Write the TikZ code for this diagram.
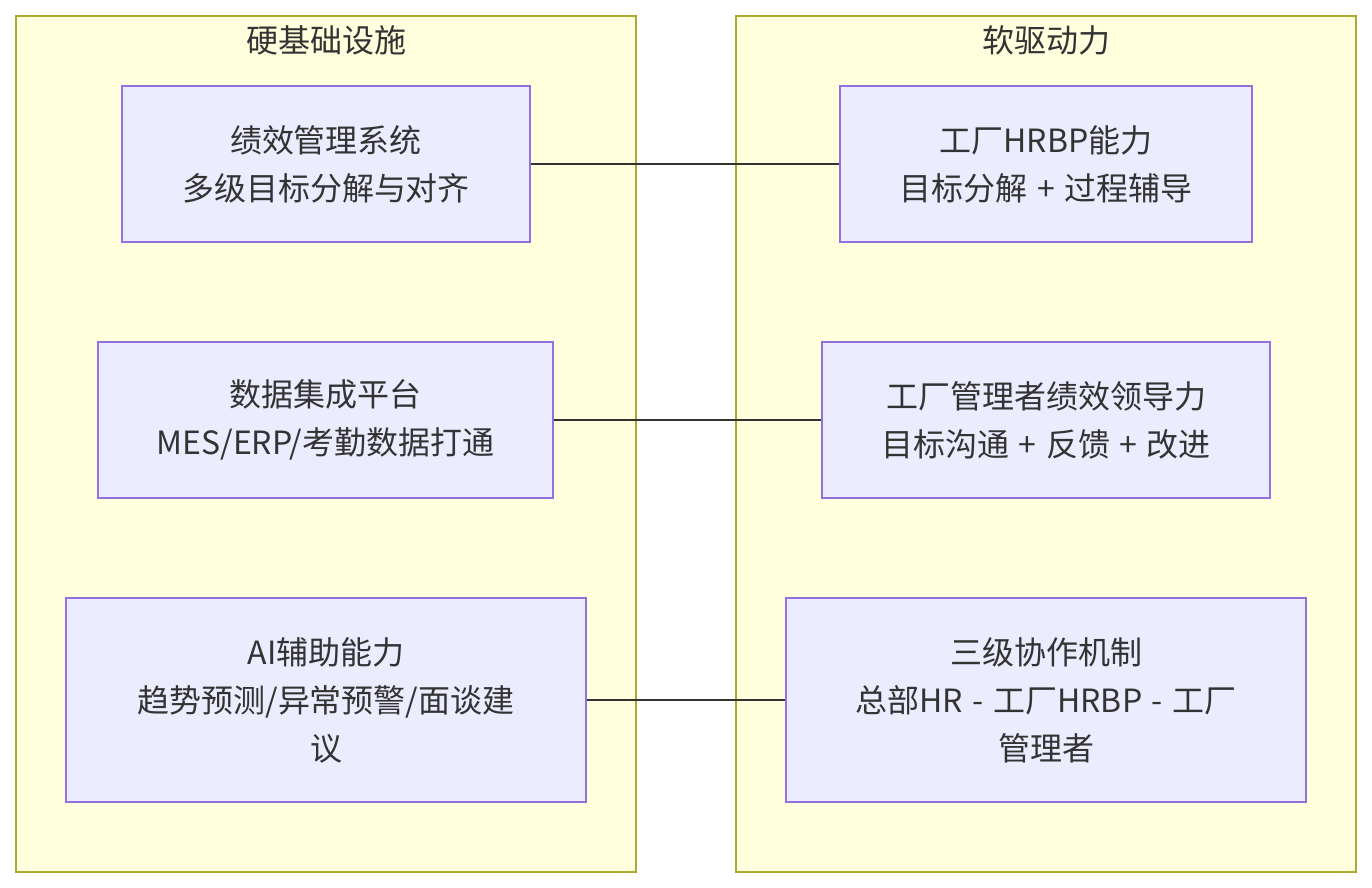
\documentclass[tikz,border=0pt]{standalone}
\usepackage{fontspec}
\setmainfont{Noto Sans CJK SC}
\definecolor{clfill}{HTML}{FFFFDE}
\definecolor{cldraw}{HTML}{AAAA33}
\definecolor{ndfill}{HTML}{ECECFF}
\definecolor{nddraw}{HTML}{9370DB}
\definecolor{txt}{HTML}{333333}
\newcommand{\gap}{\hspace{4.8pt}}
\begin{document}
\begin{tikzpicture}[x=0.5pt,y=-0.5pt,
  cluster/.style={draw=cldraw,fill=clfill,line width=0.7pt},
  box/.style={draw=nddraw,fill=ndfill,line width=0.7pt,inner sep=0pt,
    align=center,text=txt,font=\fontsize{16}{24}\selectfont},
  ctitle/.style={text=txt,font=\fontsize{16}{20}\selectfont},
  link/.style={draw=txt,line width=1pt}]
  \useasboundingbox (0,0) rectangle (1372,888);
  % clusters
  \draw[cluster] (16,16) rectangle (636,872);
  \draw[cluster] (736,16) rectangle (1356,872);
  \node[ctitle] (hard) at (326,40) {硬基础设施};
  \node[ctitle] (soft) at (1046,40) {软驱动力};
  % left column
  \node[box,minimum width=204pt,minimum height=78pt] (perf) at (326,164)
    {绩效管理系统\\多级目标分解与对齐};
  \node[box,minimum width=227.5pt,minimum height=78pt] (data) at (325.5,420)
    {数据集成平台\\MES/ERP/考勤数据打通};
  \node[box,minimum width=260pt,minimum height=102pt] (ai) at (326,700)
    {AI辅助能力\\趋势预测/异常预警/面谈建\\议};
  % right column
  \node[box,minimum width=206pt,minimum height=78pt] (hrbp) at (1046,164)
    {工厂HRBP能力\\目标分解\gap{}+\gap{}过程辅导};
  \node[box,minimum width=224pt,minimum height=78pt] (lead) at (1046,420)
    {工厂管理者绩效领导力\\目标沟通\gap{}+\gap{}反馈\gap{}+\gap{}改进};
  \node[box,minimum width=260pt,minimum height=102pt] (coop) at (1046,700)
    {三级协作机制\\总部HR\gap{}-\gap{}工厂HRBP\gap{}-\gap{}工厂\\管理者};
  % links
  \draw[link] (perf) -- (hrbp);
  \draw[link] (data) -- (lead);
  \draw[link] (ai) -- (coop);
\end{tikzpicture}
\end{document}
